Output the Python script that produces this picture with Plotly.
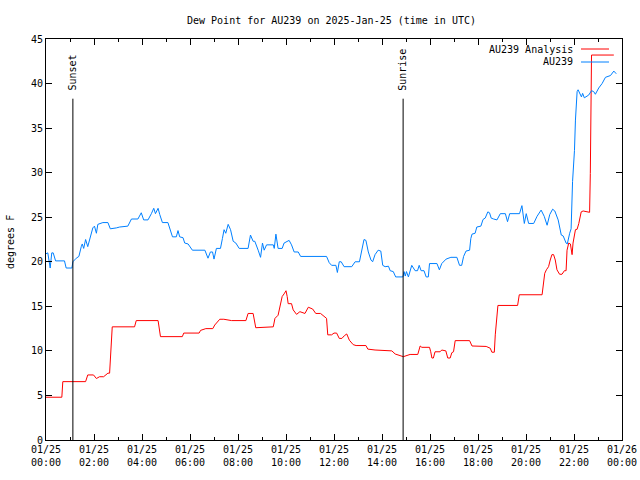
import pandas as pd
import plotly.graph_objects as go

# ---------------- data (hours after 2025-01-25 00:00 UTC, degrees F) ----------------
obs_hours = [0.0, 0.075, 0.175, 0.24, 0.3, 0.4, 0.77, 0.84, 1.08, 1.12, 1.26, 1.37, 1.47, 1.51,
             1.57, 1.65, 1.74, 1.82, 1.89, 1.95, 2.02, 2.10, 2.16, 2.37, 2.58, 2.68, 2.93, 3.07,
             3.41, 3.56, 3.83, 3.97, 4.07, 4.25, 4.39, 4.49, 4.56, 4.67, 4.74, 4.85, 5.08, 5.27,
             5.43, 5.50, 5.57, 5.71, 5.78, 5.92, 6.10, 6.62, 6.75, 6.85, 6.94, 7.00, 7.10, 7.27,
             7.35, 7.42, 7.49, 7.59, 7.69, 7.80, 7.91, 8.05, 8.42, 8.52, 8.63, 8.70, 8.84, 8.94,
             9.02, 9.09, 9.19, 9.47, 9.51, 9.58, 9.67, 9.84, 9.92, 10.13, 10.23, 10.34, 10.51,
             10.61, 11.69, 11.80, 11.90, 12.08, 12.14, 12.22, 12.30, 12.42, 12.74, 12.88, 13.06,
             13.16, 13.25, 13.33, 13.43, 13.54, 13.61, 13.71, 13.84, 13.95, 14.03, 14.13, 14.27,
             14.34, 14.47, 14.57, 14.87, 14.92, 14.97, 15.02, 15.10, 15.24, 15.38, 15.48, 15.55,
             15.63, 15.75, 15.84, 15.93, 15.98, 16.29, 16.39, 16.49, 16.67, 16.87, 17.12, 17.23,
             17.32, 17.40, 17.50, 17.65, 17.70, 17.75, 17.88, 17.95, 18.12, 18.21, 18.30, 18.41,
             18.48, 18.55, 18.65, 18.79, 18.93, 19.14, 19.23, 19.32, 19.73, 19.83, 19.93, 20.01,
             20.11, 20.32, 20.46, 20.63, 20.76, 20.88, 20.99, 21.11, 21.20, 21.34, 21.47, 21.55,
             21.67, 21.72, 21.82, 21.88, 21.94, 22.02, 22.06, 22.13, 22.17, 22.24, 22.31, 22.36,
             22.43, 22.61, 22.73, 22.82, 22.89, 23.03, 23.17, 23.31, 23.52, 23.66, 23.76]
obs_values = [20.9, 21.0, 19.3, 21.0, 21.0, 20.1, 20.1, 19.3, 19.3, 20.0, 20.4, 20.6, 21.7, 22.0,
              21.5, 22.5, 21.7, 22.6, 23.2, 23.8, 24.0, 23.2, 24.2, 24.4, 24.4, 23.7, 23.8, 23.9,
              24.0, 24.8, 24.8, 25.5, 24.7, 24.7, 25.4, 26.0, 25.4, 26.0, 25.3, 24.4, 24.4, 22.8,
              22.8, 23.5, 22.8, 22.7, 22.1, 22.0, 21.3, 21.3, 20.4, 21.1, 21.1, 20.3, 21.5, 21.5,
              22.6, 23.6, 23.2, 24.2, 23.6, 22.3, 22.1, 21.5, 21.5, 23.0, 22.3, 22.3, 21.3, 20.5,
              22.1, 21.3, 21.9, 21.9, 21.5, 23.1, 21.5, 21.5, 22.1, 22.4, 21.9, 21.1, 21.1,
              20.6, 20.6, 19.9, 19.6, 19.6, 18.8, 20.0, 20.0, 19.45, 19.45, 20.0, 20.0,
              21.5, 22.5, 22.4, 21.1, 20.2, 20.0, 20.8, 21.3, 21.2, 19.6, 19.45, 19.5,
              19.0, 18.9, 18.3, 18.3, 18.9, 18.4, 18.9, 18.3, 19.6, 19.0, 19.0, 19.6,
              19.0, 19.0, 18.3, 18.3, 19.8, 19.8, 19.1, 19.8, 20.3, 20.5, 20.5, 19.6,
              19.6, 20.6, 21.2, 21.3, 22.6, 23.1, 23.2, 23.9, 24.0, 24.75, 24.9, 25.6,
              25.5, 24.9, 24.8, 24.7, 25.4, 25.4, 24.5, 25.4, 25.4, 26.3, 24.3, 25.4,
              24.3, 24.3, 25.1, 25.8, 25.1, 24.1, 25.3, 25.9, 25.7, 24.7, 23.0, 22.9,
              22.1, 22.0, 23.2, 23.7, 29.0, 32.5, 35.9, 39.1, 39.3, 38.9, 38.5, 38.9,
              38.4, 38.7, 39.2, 39.1, 38.8, 39.5, 40.0, 40.7, 40.9, 41.4, 41.1]

ana_hours = [0.0, 0.66, 0.70, 1.65, 1.74, 1.98, 2.10, 2.23, 2.40, 2.58, 2.65, 2.68, 2.72, 2.76,
             3.69, 3.76, 4.67, 4.77, 5.68, 5.74, 6.38, 6.44, 6.66, 6.95, 7.03, 7.24, 7.41, 7.73,
             8.33, 8.42, 8.63, 8.74, 9.47, 9.54, 9.67, 9.75, 9.84, 9.92, 10.00, 10.05, 10.09,
             10.23, 10.30, 10.44, 10.58, 10.79, 10.93, 11.11, 11.24, 11.44, 11.69, 11.74, 11.90,
             12.00, 12.11, 12.22, 12.33, 12.43, 12.53, 12.64, 12.80, 12.92, 13.33, 13.41, 13.71,
             14.41, 14.55, 14.89, 15.00, 15.17, 15.49, 15.59, 15.66, 15.98, 16.03, 16.08, 16.14,
             16.21, 16.42, 16.49, 16.66, 16.74, 16.84, 16.91, 16.98, 17.05, 17.65, 17.75, 18.34,
             18.51, 18.58, 18.68, 18.72, 18.79, 18.83, 19.65, 19.72, 20.67, 20.71, 20.78, 20.85,
             20.94, 21.01, 21.08, 21.15, 21.22, 21.29, 21.40, 21.50, 21.60, 21.67, 21.71, 21.78,
             21.85, 21.92, 21.96, 22.06, 22.13, 22.20, 22.30, 22.38, 22.65, 22.68, 22.73, 23.66]
ana_values = [4.8, 4.8, 6.55, 6.55, 7.3, 7.3, 6.9, 7.1, 7.1, 7.5, 7.5, 8.8, 11.4, 12.7,
              12.7, 13.4, 13.4, 11.6, 11.6, 12.0, 12.0, 12.3, 12.5, 12.5, 12.9, 13.55, 13.55, 13.4,
              13.4, 14.2, 14.2, 12.6, 12.7, 13.65, 14.0, 15.15, 16.1, 16.4, 16.75, 16.1, 15.3,
              15.3, 14.6, 14.1, 14.4, 14.2, 14.9, 14.7, 14.2, 14.2, 13.65, 11.8, 11.8,
              12.0, 12.0, 11.4, 11.4, 11.7, 11.9, 11.2, 10.7, 10.6, 10.6, 10.2, 10.1,
              10.0, 9.65, 9.35, 9.45, 9.6, 9.6, 10.55, 10.4, 10.4, 9.9, 9.2, 9.2,
              9.9, 9.9, 10.1, 10.0, 9.2, 9.2, 9.8, 9.9, 11.15, 11.15, 10.55, 10.5,
              10.3, 9.85, 9.85, 11.8, 14.4, 15.1, 15.1, 16.3, 16.3, 17.4, 18.7, 19.1,
              19.45, 20.2, 20.8, 20.8, 20.2, 19.1, 18.6, 18.6, 19.0, 19.0, 21.3, 22.1,
              22.0, 20.8, 22.1, 23.6, 23.65, 24.3, 25.6, 25.7, 25.55, 29.9, 43.2, 43.2]

event_names = ["Sunset", "Sunrise"]
event_hours = [1.12, 14.88]
event_top = 38.3

series_names = ["AU239 Analysis", "AU239"]
series_colors = ["#ff0000", "#0080ff"]

y_ticks = [0, 5, 10, 15, 20, 25, 30, 35, 40, 45]

base = pd.Timestamp("2025-01-25 00:00")
to_t = lambda hrs: [base + pd.Timedelta(hours=h) for h in hrs]

FONT = "DejaVu Sans Mono"
W, H = 640, 480
ML, MR, MT, MB = 46, 18, 39, 40
PW, PH = W - ML - MR, H - MT - MB


def px_x(px):
    return (px - ML) / PW


def px_y(py):
    return (H - MB - py) / PH


fig = go.Figure()
fig.add_trace(go.Scatter(x=to_t(ana_hours), y=ana_values, mode="lines",
                         line=dict(color=series_colors[0], width=1), name=series_names[0]))
fig.add_trace(go.Scatter(x=to_t(obs_hours), y=obs_values, mode="lines",
                         line=dict(color=series_colors[1], width=1), name=series_names[1]))

annotations = []
for name, h in zip(event_names, event_hours):
    t = to_t([h])[0]
    fig.add_trace(go.Scatter(x=[t, t], y=[0, event_top], mode="lines",
                             line=dict(color="black", width=1), showlegend=False))
    annotations.append(dict(x=t, y=event_top, xref="x", yref="y", text=name, textangle=-90,
                            showarrow=False, yanchor="bottom", xanchor="center", yshift=6,
                            font=dict(family=FONT, size=10, color="black")))

# legend (gnuplot style: text then sample line)
shapes = []
for i, (name, col) in enumerate(zip(series_names, series_colors)):
    ypx = 49 + i * 13
    annotations.append(dict(x=px_x(575), y=px_y(ypx), xref="paper", yref="paper", text=name,
                            showarrow=False, xanchor="right", yanchor="middle",
                            font=dict(family=FONT, size=10, color="black")))
    shapes.append(dict(type="line", xref="paper", yref="paper", x0=px_x(581), x1=px_x(609),
                       y0=px_y(ypx), y1=px_y(ypx), line=dict(color=col, width=1)))

annotations.append(dict(x=px_x(10), y=px_y(242), xref="paper", yref="paper", text="degrees F",
                        textangle=-90, showarrow=False, xanchor="center", yanchor="middle",
                        font=dict(family=FONT, size=10, color="black")))

fig.update_layout(
    width=W, height=H,
    margin=dict(l=ML, r=MR, t=MT, b=MB, pad=0, autoexpand=False),
    paper_bgcolor="white", plot_bgcolor="white",
    showlegend=False,
    font=dict(family=FONT, size=10, color="black"),
    title=dict(text="Dew Point for AU239 on 2025-Jan-25 (time in UTC)", x=331.5 / W, xanchor="center",
               y=1 - 20 / H, yanchor="middle", font=dict(family=FONT, size=10, color="black")),
    annotations=annotations,
    shapes=shapes,
)
fig.update_xaxes(
    type="date", range=[base, base + pd.Timedelta(hours=24)], automargin=False,
    dtick=7200000, tick0=base, tickformat="%m/%d<br>%H:%M",
    ticks="inside", ticklen=6, tickcolor="black", tickwidth=1,
    minor=dict(dtick=3600000, ticks="inside", ticklen=3, tickcolor="black", showgrid=False),
    showline=True, linecolor="black", linewidth=1, mirror="allticks",
    showgrid=False, zeroline=False, tickfont=dict(family=FONT, size=10),
)
fig.update_yaxes(
    range=[0, 45], tickvals=y_ticks, automargin=False,
    ticks="inside", ticklen=6, tickcolor="black", tickwidth=1,
    showline=True, linecolor="black", linewidth=1, mirror="allticks",
    showgrid=False, zeroline=False, tickfont=dict(family=FONT, size=10),
)

fig.write_html("out.html")
